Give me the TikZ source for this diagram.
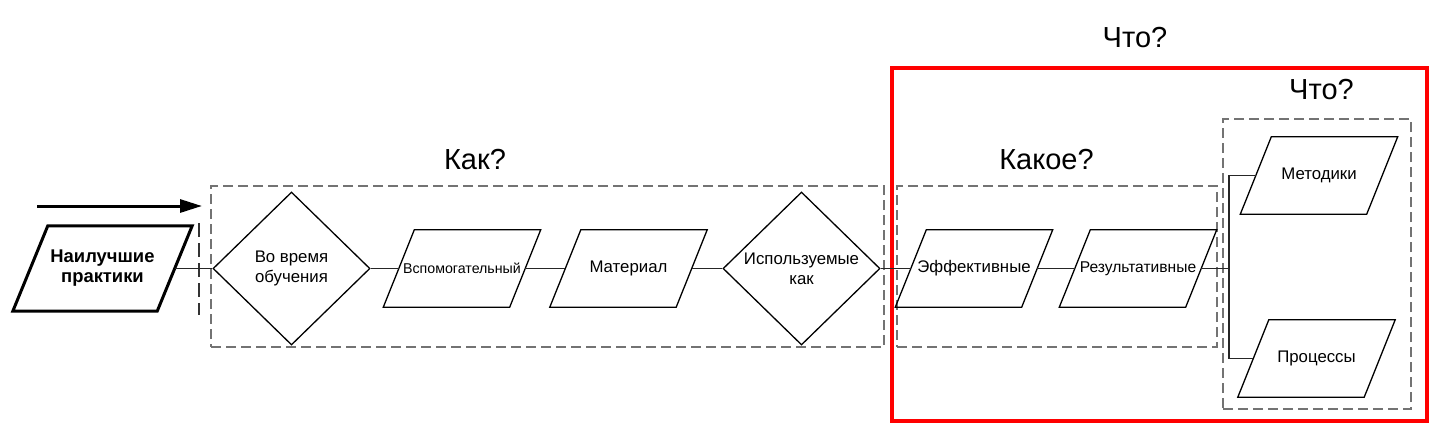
\documentclass[tikz,border=0pt]{standalone}
\usepackage{fontspec}
\setmainfont{Liberation Sans}
\usetikzlibrary{arrows.meta,positioning,shapes.geometric,fit}

\begin{document}
\begin{tikzpicture}[x=1pt, y=-1pt,
  font=\fontsize{16.8}{20}\selectfont,
  data/.style={rectangle, align=center, inner sep=1pt, minimum width=126pt, minimum height=77pt,
    append after command={\pgfextra{\draw[line width=1.3pt] ([xshift=-15.5pt]\tikzlastnode.south west) -- ([xshift=15.5pt]\tikzlastnode.north west) -- ([xshift=15.5pt]\tikzlastnode.north east) -- ([xshift=-15.5pt]\tikzlastnode.south east) -- cycle;}}},
  start/.style={rectangle, align=center, inner sep=1pt, minimum width=144pt, minimum height=85pt, font=\fontsize{18.4}{20}\selectfont\bfseries,
    append after command={\pgfextra{\draw[line width=3pt, line join=miter] ([xshift=-17.5pt]\tikzlastnode.south west) -- ([xshift=17.5pt]\tikzlastnode.north west) -- ([xshift=17.5pt]\tikzlastnode.north east) -- ([xshift=-17.5pt]\tikzlastnode.south east) -- cycle;}}},
  decision/.style={diamond, draw, line width=1.3pt, align=center, inner sep=0pt, minimum width=157pt, minimum height=153pt},
  grp/.style={draw=black!55, line width=1.3pt, dash pattern=on 10pt off 5pt, inner sep=0pt},
  frame/.style={draw=red, line width=3.5pt, inner sep=0pt},
  title/.style={anchor=base, font=\fontsize{29}{34}\selectfont},
  link/.style={draw=black!85, line width=1.6pt}
]
\useasboundingbox (0,0) rectangle (1441,432);

% groups
\node[grp, fit={(211,186)(884,347)}] (howbox) {};
\node[grp, fit={(897,186)(1217,347)}] (whichbox) {};
\node[grp, fit={(1223,119)(1411,409)}] (whatbox) {};
\node[frame, fit={(892,68)(1427,421)}] (outcome) {};

% chain
\node[start] (best) at (102.5,268.5) {Наилучшие\\практики};
\node[decision] (during) at (291.5,268.5) {Во время\\обучения};
\node[data, font=\fontsize{14.2}{17}\selectfont] (aux) at (462,268.5) {Вспомогательный};
\node[data] (mat) at (628.5,268.5) {Материал};
\node[decision] (used) at (801.5,268.5) {Используемые\\как};
\node[data] (eff) at (974,268.5) {Эффективные};
\node[data, font=\fontsize{15.6}{18}\selectfont] (res) at (1138,268.5) {Результативные};
\node[data] (meth) at (1319,175.5) {Методики};
\node[data] (proc) at (1316.5,358.5) {Процессы};
\coordinate (jn) at (1229,268.5);

% titles
\node[title] (how) at (475,169) {Как?};
\node[title] (which) at (1046.5,169) {Какое?};
\node[title] (what) at (1135,47) {Что?};
\node[title] (whatin) at (1321.5,99) {Что?};

% flow arrow and marker
\coordinate (flowa) at (37,206);
\coordinate (flowb) at (202,206);
\draw[-{Triangle[length=22pt,width=13pt]}, line width=3pt] (flowa) -- (flowb);
\coordinate (marka) at (199,223);
\coordinate (markb) at (199,315);
\draw[black!80, line width=2pt, dash pattern=on 14pt off 6pt] (marka) -- (markb);

% connectors
\draw[link] (best) -- (during);
\draw[link] (during) -- (aux);
\draw[link] (aux) -- (mat);
\draw[link] (mat) -- (used);
\draw[link] (used) -- (eff);
\draw[link] (eff) -- (res);
\draw[link] (res) -- (jn);
\draw[link] (meth.west) -| (jn) |- (proc.west);
\end{tikzpicture}
\end{document}
